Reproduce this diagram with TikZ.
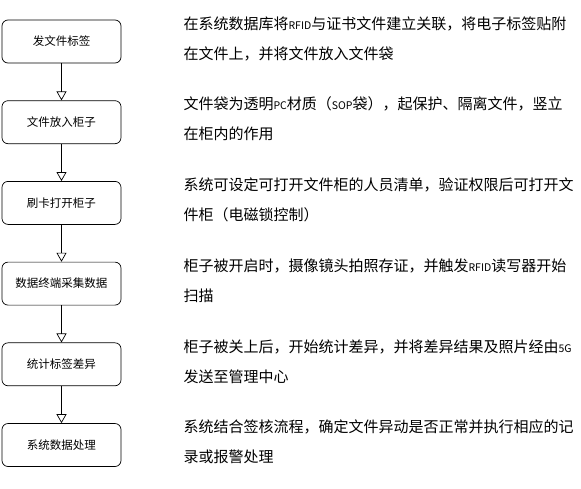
\documentclass[tikz,border=0pt]{standalone}
\usepackage{fontspec}
\setmainfont{Noto Sans CJK SC}
\usetikzlibrary{arrows.meta, positioning}
\newcommand{\abbr}[1]{{\fontsize{10.5}{30}\selectfont #1}}

\begin{document}
\begin{tikzpicture}[x=1pt, y=1pt,
  stepbox/.style={rectangle, draw=black, line width=0.7pt, rounded corners=6pt,
    minimum width=119pt, minimum height=43pt, inner sep=0pt,
    font=\fontsize{11.5}{14}\selectfont},
  note/.style={anchor=west, align=left, inner sep=0pt, yshift=3pt,
    font=\fontsize{15}{30}\selectfont},
  flow/.style={-{Triangle[open, width=10pt, length=9pt]}, line width=0.7pt},
  node distance=37pt,
]
  \useasboundingbox (0,0) rectangle (581,-488);
  \node[stepbox] (s1) at (61.5,-41.5) {发文件标签};
  \node[note, right=62pt of s1] (t1) {在系统数据库将\abbr{RFID}与证书文件建立关联，将电子标签贴附\\在文件上，并将文件放入文件袋};
  \node[stepbox, below=of s1] (s2) {文件放入柜子};
  \node[note, right=62pt of s2] (t2) {文件袋为透明\abbr{PC}材质（\abbr{SOP}袋），起保护、隔离文件，竖立\\在柜内的作用};
  \node[stepbox, below=of s2] (s3) {刷卡打开柜子};
  \node[note, right=62pt of s3] (t3) {系统可设定可打开文件柜的人员清单，验证权限后可打开文\\件柜（电磁锁控制）};
  \node[stepbox, below=of s3] (s4) {数据终端采集数据};
  \node[note, right=62pt of s4] (t4) {柜子被开启时，摄像镜头拍照存证，并触发\abbr{RFID}读写器开始\\扫描};
  \node[stepbox, below=of s4] (s5) {统计标签差异};
  \node[note, right=62pt of s5] (t5) {柜子被关上后，开始统计差异，并将差异结果及照片经由\abbr{5G}\\发送至管理中心};
  \node[stepbox, below=of s5] (s6) {系统数据处理};
  \node[note, right=62pt of s6] (t6) {系统结合签核流程，确定文件异动是否正常并执行相应的记\\录或报警处理};
  % arrows between steps
  \foreach \a/\b in {s1/s2, s2/s3, s3/s4, s4/s5, s5/s6}
    \draw[flow] (\a) -- (\b);
\end{tikzpicture}
\end{document}
